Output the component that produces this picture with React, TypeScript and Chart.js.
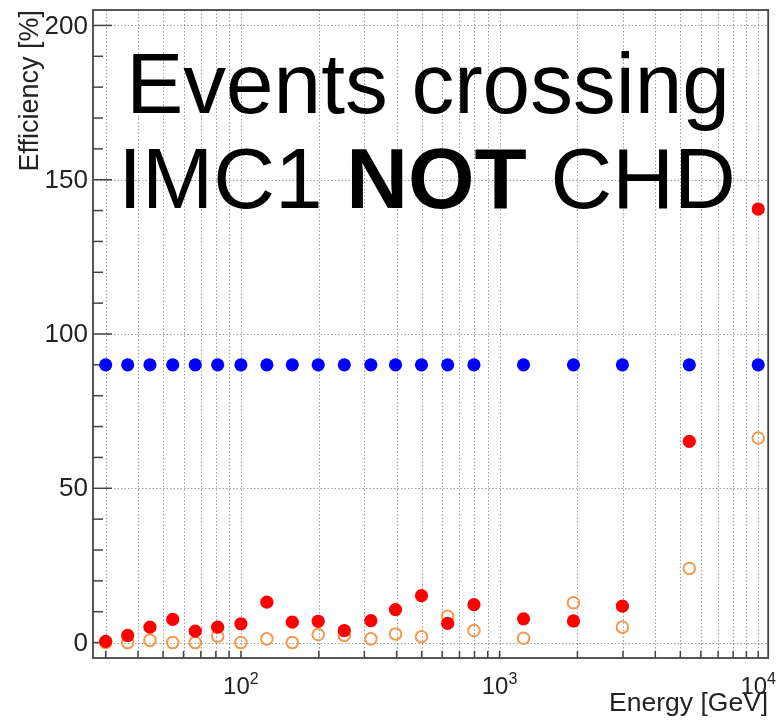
import { useEffect, useRef } from 'react';
import { Chart, registerables } from 'chart.js';

Chart.register(...registerables);

// Beam energies of the simulated runs (GeV)
const energies = [30, 36.5, 44.5, 54.5, 66.6, 81.3, 100, 126, 158, 199, 251, 318, 396, 499, 630, 796, 1238, 1931, 2985, 5415, 10000];

// Efficiencies in percent, one value per energy
const effBlue = [90, 90, 90, 90, 90, 90, 90, 90, 90, 90, 90, 90, 90, 90, 90, 90, 90, 90, 90, 90, 90];
const effRed = [0.4, 2.3, 5.0, 7.5, 3.7, 5.0, 6.1, 13.1, 6.6, 6.9, 3.9, 7.1, 10.7, 15.2, 6.2, 12.3, 7.7, 7.0, 11.8, 65.2, 140.5];
const effOrange = [0, 0, 0.7, 0, 0, 2.1, 0, 1.2, 0, 2.6, 2.3, 1.2, 2.8, 1.9, 8.5, 3.9, 1.4, 12.9, 5.0, 24.0, 66.3];

// Axis ranges and tick positions
const xRange = [26.8, 10930];
const yRange = [-5, 205];
const xGridValues = [30, 40, 50, 60, 70, 80, 90, 100, 200, 300, 400, 500, 600, 700, 800, 900, 1000, 2000, 3000, 4000, 5000, 6000, 7000, 8000, 9000, 10000];
const xLabelExponents = [2, 3, 4];
const yMajorTicks = [0, 50, 100, 150, 200];
const yMinorTicks = [10, 20, 30, 40, 60, 70, 80, 90, 110, 120, 130, 140, 160, 170, 180, 190];

const xTitle = 'Energy [GeV]';
const yTitle = 'Efficiency [%]';
const headline1 = 'Events crossing';
const headline2: [string, boolean][] = [['IMC1 ', false], ['NOT', true], [' CHD', false]];

const FONT = '"Liberation Sans", Arial, Helvetica, sans-serif';
const HEAD_SIZE = 85.5;

const framePlugin = {
  id: 'rootFrame',
  beforeDatasetsDraw(chart: any) {
    const { ctx, chartArea: a, scales } = chart;
    const xs = scales.x;
    const ys = scales.y;
    ctx.save();
    // dotted grid
    ctx.strokeStyle = 'rgba(60,60,60,0.5)';
    ctx.lineWidth = 1;
    ctx.setLineDash([1.5, 2]);
    for (const v of xGridValues) {
      const px = Math.round(xs.getPixelForValue(v)) + 0.5;
      ctx.beginPath();
      ctx.moveTo(px, a.top);
      ctx.lineTo(px, a.bottom);
      ctx.stroke();
    }
    for (const v of yMajorTicks) {
      const py = Math.round(ys.getPixelForValue(v)) + 0.5;
      ctx.beginPath();
      ctx.moveTo(a.left, py);
      ctx.lineTo(a.right, py);
      ctx.stroke();
    }
    ctx.setLineDash([]);
    // inward ticks
    ctx.strokeStyle = '#444';
    ctx.lineWidth = 1.5;
    for (const v of xGridValues) {
      const px = xs.getPixelForValue(v);
      ctx.beginPath();
      ctx.moveTo(px, a.bottom);
      ctx.lineTo(px, a.bottom - 7);
      ctx.stroke();
    }
    for (const v of yMajorTicks) {
      const py = ys.getPixelForValue(v);
      ctx.beginPath();
      ctx.moveTo(a.left, py);
      ctx.lineTo(a.left + 19, py);
      ctx.stroke();
    }
    for (const v of yMinorTicks) {
      const py = ys.getPixelForValue(v);
      ctx.beginPath();
      ctx.moveTo(a.left, py);
      ctx.lineTo(a.left + 10, py);
      ctx.stroke();
    }
    // frame
    ctx.strokeStyle = '#444';
    ctx.lineWidth = 1.8;
    ctx.strokeRect(a.left, a.top, a.right - a.left, a.bottom - a.top);
    ctx.restore();
  },
  afterDraw(chart: any) {
    const { ctx, chartArea: a, scales } = chart;
    const xs = scales.x;
    const ys = scales.y;
    ctx.save();
    ctx.fillStyle = '#222';
    // y tick labels
    ctx.font = `26px ${FONT}`;
    ctx.textAlign = 'right';
    ctx.textBaseline = 'middle';
    for (const v of yMajorTicks) {
      ctx.fillText(String(v), a.left - 5, ys.getPixelForValue(v) + 1);
    }
    // x tick labels as powers of ten
    ctx.textBaseline = 'alphabetic';
    ctx.textAlign = 'left';
    for (const e of xLabelExponents) {
      const px = xs.getPixelForValue(Math.pow(10, e));
      ctx.font = `24px ${FONT}`;
      const wBase = ctx.measureText('10').width;
      ctx.font = `16px ${FONT}`;
      const wExp = ctx.measureText(String(e)).width;
      const x0 = px - (wBase + wExp) / 2;
      ctx.font = `24px ${FONT}`;
      ctx.fillText('10', x0, 694);
      ctx.font = `16px ${FONT}`;
      ctx.fillText(String(e), x0 + wBase, 684);
    }
    // axis titles
    ctx.font = `26.5px ${FONT}`;
    ctx.textAlign = 'right';
    ctx.fillText(xTitle, a.right, 711);
    ctx.save();
    ctx.translate(38, a.top);
    ctx.rotate(-Math.PI / 2);
    ctx.font = `27px ${FONT}`;
    ctx.textAlign = 'right';
    ctx.fillText(yTitle, 0, 0);
    ctx.restore();
    // headline
    ctx.fillStyle = '#000';
    ctx.textAlign = 'center';
    ctx.font = `${HEAD_SIZE}px ${FONT}`;
    ctx.fillText(headline1, 428, 113);
    let total = 0;
    for (const [t, b] of headline2) {
      ctx.font = `${b ? 'bold ' : ''}${HEAD_SIZE}px ${FONT}`;
      total += ctx.measureText(t).width;
    }
    ctx.textAlign = 'left';
    let x = 427 - total / 2;
    for (const [t, b] of headline2) {
      ctx.font = `${b ? 'bold ' : ''}${HEAD_SIZE}px ${FONT}`;
      ctx.fillText(t, x, 208);
      x += ctx.measureText(t).width;
    }
    ctx.restore();
  },
};

export default function App() {
  const canvasRef = useRef<HTMLCanvasElement | null>(null);

  useEffect(() => {
    const canvas = canvasRef.current;
    if (!canvas) return;
    const toPoints = (ys: number[]) => energies.map((e, i) => ({ x: e, y: ys[i] }));
    const chart = new Chart(canvas, {
      type: 'scatter',
      data: {
        datasets: [
          {
            data: toPoints(effBlue),
            pointRadius: 6.6,
            pointBackgroundColor: '#0000ff',
            pointBorderColor: '#0000ff',
            pointBorderWidth: 0,
          },
          {
            data: toPoints(effRed),
            pointRadius: 6.6,
            pointBackgroundColor: '#ff0000',
            pointBorderColor: '#ff0000',
            pointBorderWidth: 0,
          },
          {
            data: toPoints(effOrange),
            pointRadius: 5.8,
            pointBackgroundColor: 'rgba(0,0,0,0)',
            pointBorderColor: '#f29a4e',
            pointBorderWidth: 2,
          },
        ],
      },
      options: {
        responsive: false,
        animation: false,
        devicePixelRatio: 1,
        layout: { padding: { left: 93, right: 6, top: 10, bottom: 62 } },
        plugins: { legend: { display: false }, tooltip: { enabled: false } },
        scales: {
          x: { type: 'logarithmic', display: false, min: xRange[0], max: xRange[1], bounds: 'data' },
          y: { type: 'linear', display: false, min: yRange[0], max: yRange[1] },
        },
      },
      plugins: [framePlugin],
    });
    return () => chart.destroy();
  }, []);

  return (
    <div style={{ position: 'absolute', left: 0, top: 0, width: 776, height: 720, background: '#fff' }}>
      <canvas ref={canvasRef} width={776} height={720} style={{ display: 'block' }} />
    </div>
  );
}
